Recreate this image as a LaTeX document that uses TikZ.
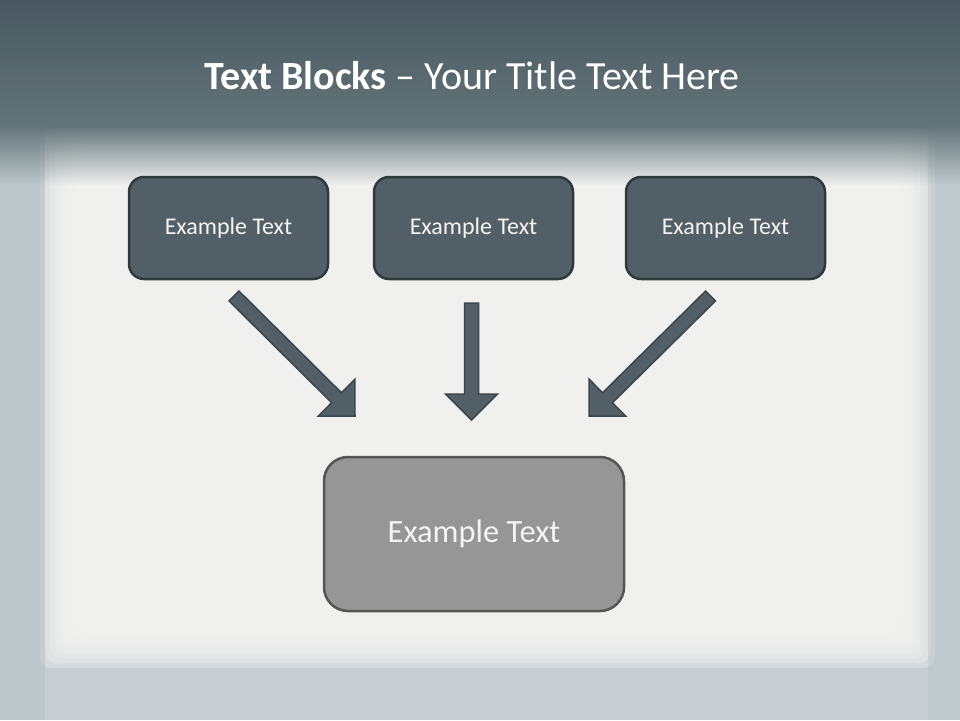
\documentclass[tikz,border=0pt]{standalone}
\usepackage{fontspec}
\setmainfont{Carlito}
\usetikzlibrary{calc,fadings}
\definecolor{bandtop}{HTML}{495860}
\definecolor{bandbot}{HTML}{637479}
\definecolor{bgedge}{HTML}{C6CED2}
\definecolor{bgpanel}{HTML}{F2F3F1}
\definecolor{boxfill}{HTML}{535F66}
\definecolor{boxline}{HTML}{2E393E}
\definecolor{arrfill}{HTML}{535F66}
\definecolor{arrline}{HTML}{3A464B}
\definecolor{botfill}{HTML}{969696}
\definecolor{botline}{HTML}{555555}
\definecolor{txtwhite}{HTML}{F4F4F4}
\definecolor{stripL}{HTML}{B4BFC4}
\definecolor{stripR}{HTML}{B8C2C6}
\tikzfading[name=fadedown, top color=transparent!0, bottom color=transparent!100]
\tikzset{
  topbox/.style={draw=boxline, line width=2.5pt, fill=boxfill, rounded corners=15pt,
    minimum width=199pt, minimum height=102pt, inner sep=0pt,
    text=txtwhite, font=\fontsize{24}{28}\selectfont},
  botbox/.style={draw=botline, line width=2.5pt, fill=botfill, rounded corners=24pt,
    minimum width=300pt, minimum height=154pt, inner sep=0pt,
    text=txtwhite, font=\fontsize{32.5}{38}\selectfont},
  blockarr/.style={draw=arrline, line width=1.5pt, fill=arrfill, line join=miter},
  titletext/.style={text=white, font=\fontsize{40}{46}\selectfont, inner sep=0pt}
}
\newcommand{\blockarrow}[2]{%
  \path ($(#2)!26pt!(#1)$) coordinate (hb);
  \draw[blockarr] ($(#1)!7pt!-90:(#2)$) -- ($(hb)!7pt!-90:(#2)$) -- ($(hb)!26pt!-90:(#2)$)
    -- (#2) -- ($(hb)!26pt!90:(#2)$) -- ($(hb)!7pt!90:(#2)$) -- ($(#1)!7pt!90:(#2)$) -- cycle;
}
\begin{document}
\begin{tikzpicture}[x=1pt,y=-1pt]
\useasboundingbox (0,0) rectangle (960,720);
% background
\fill[bgedge] (0,0) rectangle (960,720);
\foreach \d in {0,5,...,45}{
  \fill[bgpanel,opacity=0.35,rounded corners=12pt] (40+\d,110+\d) rectangle (935-\d,668-\d);
}
% side strips
\fill[stripL,opacity=0.45] (0,125) rectangle (45,720);
\fill[stripR,opacity=0.4] (928,125) rectangle (960,720);
% top band
\shade[top color=bandtop,bottom color=bandbot] (0,0) rectangle (960,126);
\fill[bandbot,path fading=fadedown] (-10,125.5) rectangle (970,185);
% title
\node[titletext] (title) at (472,76) {\textbf{Text Blocks} – Your Title Text Here};
% boxes
\node[topbox] (b1) at (228.5,228) {Example Text};
\node[topbox] (b2) at (473.5,228) {Example Text};
\node[topbox] (b3) at (725.5,228) {Example Text};
\node[botbox] (b4) at (474,534) {Example Text};
% arrows
\coordinate (s1) at (234,296);
\coordinate (t1) at (355,416);
\coordinate (s2) at (471.5,303);
\coordinate (t2) at (471.5,420);
\coordinate (s3) at (710.5,296);
\coordinate (t3) at (589,416);
\blockarrow{s1}{t1}
\blockarrow{s2}{t2}
\blockarrow{s3}{t3}
\end{tikzpicture}
\end{document}
